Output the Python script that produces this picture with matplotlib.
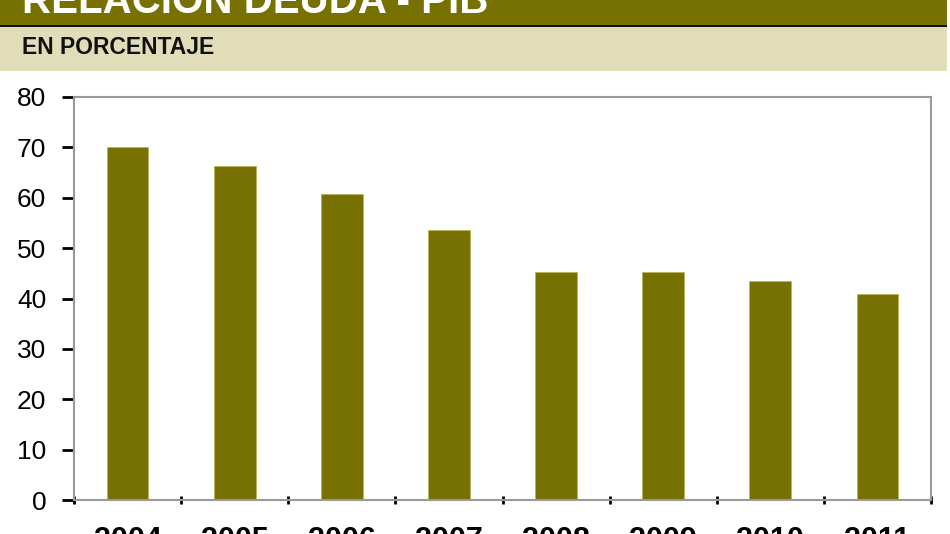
import matplotlib.pyplot as plt
from matplotlib.patches import Rectangle
import numpy as np

years = ["2004", "2005", "2006", "2007", "2008", "2009", "2010", "2011"]
ratio = [70.0, 66.3, 60.8, 53.5, 45.3, 45.3, 43.5, 40.8]
yticks = [0, 10, 20, 30, 40, 50, 60, 70, 80]

olive = "#767100"
beige = "#e1ddb9"
font = ["Liberation Sans", "DejaVu Sans"]

W, H = 950, 534
fig = plt.figure(figsize=(W / 100, H / 100), dpi=100)

# header bands
fig.patches.append(Rectangle((0, 1 - 25 / H), 947 / W, 25 / H, transform=fig.transFigure,
                             facecolor=olive, edgecolor="none"))
fig.patches.append(Rectangle((0, 1 - 27.5 / H), 947 / W, 2.5 / H, transform=fig.transFigure,
                             facecolor="#111111", edgecolor="none"))
fig.patches.append(Rectangle((0, 1 - 71 / H), 947 / W, 43.5 / H, transform=fig.transFigure,
                             facecolor=beige, edgecolor="none"))
fig.text(22 / W, 1 - 13 / H, "RELACIÓN DEUDA - PIB", color="white", fontsize=29,
         fontweight="bold", family=font, va="baseline", ha="left")
fig.text(22 / W, 1 - 48 / H, "EN PORCENTAJE", color="#111111", fontsize=16.5,
         fontweight="bold", family=font, va="center", ha="left")

ax = fig.add_axes([74 / W, 1 - 500 / H, (931 - 74) / W, (500 - 97) / H])
x = np.arange(len(years))
ax.bar(x, ratio, width=0.39, color=olive, edgecolor="#b9b45a", linewidth=0.6)

ax.set_xlim(-0.5, len(years) - 0.5)
ax.set_ylim(0, 80)
ax.set_yticks(yticks)
ax.set_yticklabels([str(v) for v in yticks], family=font, fontsize=19)
ax.tick_params(axis="y", length=9, width=2, color="black", pad=11)

ax.set_xticks(x)
ax.set_xticklabels(years, family=font, fontsize=22, fontweight="bold")
ax.tick_params(axis="x", which="major", length=0, pad=19)
ax.set_xticks(np.arange(len(years) + 1) - 0.5, minor=True)
ax.tick_params(axis="x", which="minor", length=6, width=2, color="black", direction="inout")

for s in ax.spines.values():
    s.set_color("#9a9a9a")
    s.set_linewidth(1.5)

fig.savefig("out.png", dpi=100)
